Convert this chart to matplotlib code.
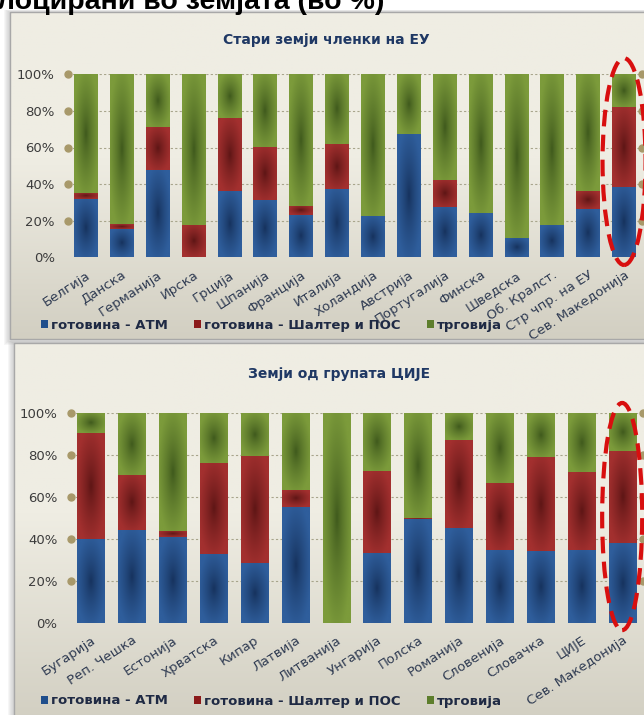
import numpy as np
import matplotlib.pyplot as plt
from matplotlib.patches import Ellipse

# data (share of transactions, %)
old_countries = ['Белгија', 'Данска', 'Германија', 'Ирска', 'Грција', 'Шпанија', 'Франција',
                 'Италија', 'Холандија', 'Австрија', 'Португалија', 'Финска', 'Шведска',
                 'Об. Кралст.', 'Стр чпр. на ЕУ', 'Сев. Македонија']
old_atm = [31.7, 15.7, 47.7, 0.0, 36.4, 31.5, 23.1, 37.5, 22.4, 67.6, 27.5, 24.0, 10.7, 17.5, 26.4, 38.4]
old_pos = [3.6, 2.5, 23.5, 17.5, 39.6, 29.0, 5.1, 24.2, 0.2, 0.0, 14.8, 0.2, 0.0, 0.2, 10.0, 43.7]

cee_countries = ['Бугарија', 'Реп. Чешка', 'Естонија', 'Хрватска', 'Кипар', 'Латвија', 'Литванија',
                 'Унгарија', 'Полска', 'Романија', 'Словенија', 'Словачка', 'ЦИЈЕ', 'Сев. Македонија']
cee_atm = [39.8, 44.4, 40.9, 32.6, 28.3, 55.1, 0.0, 33.3, 49.7, 45.2, 34.6, 34.4, 34.9, 38.2]
cee_pos = [50.6, 26.3, 3.0, 43.8, 51.3, 8.4, 0.0, 39.0, 0.5, 42.1, 32.0, 44.7, 37.1, 44.0]

series_names = ['готовина - АТМ', 'готовина - Шалтер и ПОС', 'трговија']
base_cols = ['#1f4e8c', '#8b1a1a', '#5d7e2c']
light_cols = ['#2f5e9c', '#a3302f', '#7c9b3b']
dark_cols = ['#15305a', '#5a1414', '#3c561b']

W, H = 644, 715
fig = plt.figure(figsize=(W / 100, H / 100), dpi=100)
fig.patch.set_facecolor('white')


def hex2rgb(c):
    c = c.lstrip('#')
    return np.array([int(c[i:i + 2], 16) / 255 for i in (0, 2, 4)])


def shade(ax, bars, light, dark):
    lo, hi = hex2rgb(dark), hex2rgb(light)
    v, u = np.mgrid[0:1:40j, 0:1:20j]
    d = np.clip(np.sqrt(((u - 0.5) * 2) ** 2 + ((v - 0.5) * 2) ** 2) / 1.15, 0, 1) ** 0.75
    img = lo * (1 - d[..., None]) + hi * d[..., None]
    for r in bars:
        h = r.get_height()
        if h <= 0:
            continue
        x0, y0, w = r.get_x(), r.get_y(), r.get_width()
        ax.imshow(img, extent=[x0, x0 + w, y0, y0 + h], aspect='auto',
                  interpolation='bilinear', zorder=3)


# background panels (pixel coordinates)
bg = fig.add_axes([0, 0, 1, 1], zorder=-1)
bg.set_xlim(0, W)
bg.set_ylim(H, 0)
bg.axis('off')


def panel(x0, y0, x1, y1):
    for k in range(6, 0, -1):
        bg.add_patch(plt.Rectangle((x0 - k, y0 - k * 0.4), x1 - x0 + 2 * k, y1 - y0 + k * 1.4,
                                   color='#8a8a8a', alpha=0.07, lw=0, zorder=0))
    t = np.linspace(0, 1, 200)
    g = np.clip((t - 0.45) / 0.55, 0, 1)
    top, bot = hex2rgb('#efede3'), hex2rgb('#d2cfc2')
    col = top * (1 - g[:, None]) + bot * g[:, None]
    bg.imshow(np.repeat(col[:, None, :], 2, axis=1), extent=[x0, x1, y1, y0],
              aspect='auto', interpolation='bilinear', zorder=1)
    bg.add_patch(plt.Rectangle((x0, y0), x1 - x0, y1 - y0, fill=False, ec='#a8a8a8', lw=1, zorder=2))


panel(10, 12, 652, 339)
panel(14, 343, 652, 722)
bg.set_xlim(0, W)
bg.set_ylim(H, 0)

# page heading, cut off at the top edge as in the source
fig.text(-0.004, 1 - 9 / H, 'лоцирани во земјата (во %)', fontsize=20.5, fontweight='bold',
         family='Liberation Sans', va='baseline', ha='left', color='black')


def draw(rect, cats, atm, pos, title, title_xy, legend_y, ell):
    ax = fig.add_axes(rect)
    ax.patch.set_alpha(0)
    n = len(cats)
    x = np.arange(n)
    atm = np.array(atm)
    pos = np.array(pos)
    trade = 100 - atm - pos
    b1 = ax.bar(x, atm, width=0.665, color=base_cols[0], zorder=2)
    b2 = ax.bar(x, pos, bottom=atm, width=0.665, color=base_cols[1], zorder=2)
    b3 = ax.bar(x, trade, bottom=atm + pos, width=0.665, color=base_cols[2], zorder=2)
    for bars, lc, dc in zip([b1, b2, b3], light_cols, dark_cols):
        shade(ax, bars, lc, dc)
    ax.set_xlim(-0.5, n - 0.5)
    ax.set_ylim(0, 100)
    for s in ax.spines.values():
        s.set_visible(False)
    levels = [20, 40, 60, 80, 100]
    for lv in levels:
        ax.plot([-0.5, n - 0.5], [lv, lv], ls=(0, (2, 2)), color='#a8a58c', lw=0.8, zorder=1)
        ax.plot([-0.5, n - 0.5], [lv, lv], 'o', ms=5, color='#a8996a', clip_on=False, zorder=4)
    ax.set_yticks([0, 20, 40, 60, 80, 100])
    ax.set_yticklabels(['0%', '20%', '40%', '60%', '80%', '100%'])
    ax.tick_params(axis='y', length=0, pad=9.5, labelsize=9.5, labelcolor='#3c3c3c')
    ax.set_xticks(x)
    ax.set_xticklabels(cats, rotation=33, ha='right', rotation_mode='anchor')
    ax.tick_params(axis='x', length=0, pad=8, labelsize=9.5, labelcolor='#2f3b52')
    ax.add_patch(Ellipse((n - 1, ell[0]), ell[1], ell[2], fill=False,
                         ec='#d80f0f', lw=3, ls=(0, (4, 2)), clip_on=False, zorder=6))
    fig.text(title_xy[0], title_xy[1], title, fontsize=10, fontweight='bold',
             color='#1f3864', ha='center', va='center')
    fig.legend([b1, b2, b3], series_names, loc='center left', bbox_to_anchor=(0.064, legend_y),
               ncol=3, frameon=False, handlelength=0.5, handleheight=0.5, handletextpad=0.25,
               columnspacing=2.0, prop={'size': 9.5, 'weight': 'bold'}, labelcolor='#1f2a44',
               borderaxespad=0, borderpad=0)
    return ax


draw([68 / W, 1 - 257.3 / H, 574 / W, 183 / H], old_countries, old_atm, old_pos,
     'Стари земји членки на ЕУ', (326 / W, 1 - 40 / H), 1 - 325 / H, (52.3, 1.2, 113))
draw([70.6 / W, 1 - 622.7 / H, 572 / W, 209.4 / H], cee_countries, cee_atm, cee_pos,
     'Земји од групата ЦИЈЕ', (339 / W, 1 - 374 / H), 1 - 701 / H, (50.7, 0.98, 108.5))

fig.savefig('out.png', dpi=100)
